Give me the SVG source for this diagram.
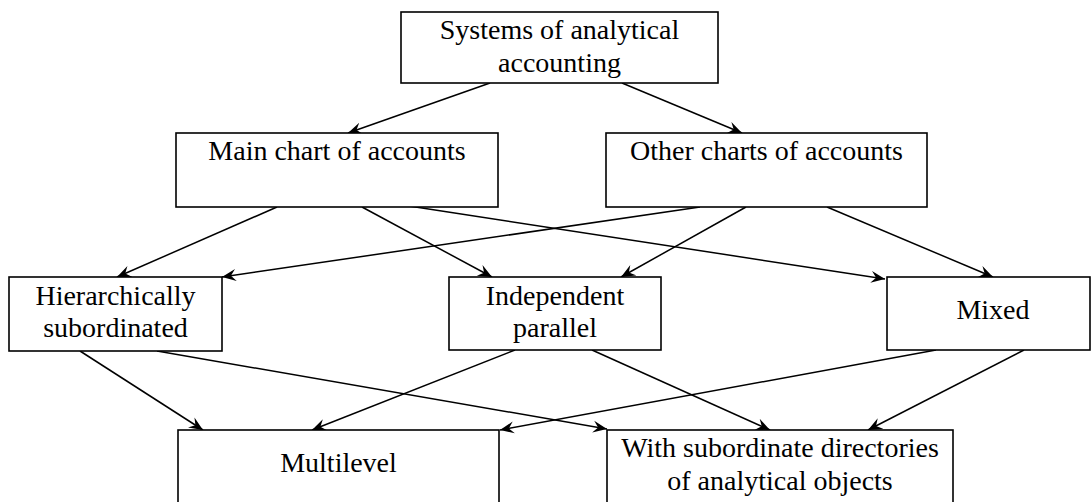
<svg xmlns="http://www.w3.org/2000/svg" width="1092" height="502" viewBox="0 0 1092 502">
  <style>
    .box { fill: #fff; stroke: #000; stroke-width: 1.6; }
    .lbl { font-size: 28px; fill: #000; text-anchor: middle; }
    .edge { stroke: #000; stroke-width: 1.5; fill: none; marker-end: url(#arrow); }
  </style>
  <defs>
    <marker id="arrow" markerUnits="userSpaceOnUse" markerWidth="16" markerHeight="14" viewBox="-14 -7 16 14" refX="0" refY="0" orient="auto">
      <path d="M-14,-6 L0,0 L-14,6 L-9,0 z" fill="#000"/>
    </marker>
  </defs>
  <rect width="1092" height="502" fill="#fff"/>

  <g id="connectors">
    <line class="edge" x1="490" y1="83" x2="348" y2="133"/>
    <line class="edge" x1="622" y1="83" x2="742" y2="133"/>
    <line class="edge" x1="277" y1="207" x2="117" y2="277"/>
    <line class="edge" x1="362" y1="207" x2="492" y2="277"/>
    <line class="edge" x1="409" y1="206" x2="885" y2="279"/>
    <line class="edge" x1="700" y1="207" x2="222" y2="277"/>
    <line class="edge" x1="746" y1="207" x2="621" y2="277"/>
    <line class="edge" x1="827" y1="207" x2="993" y2="277"/>
    <line class="edge" x1="80" y1="351" x2="203" y2="430"/>
    <line class="edge" x1="157" y1="351" x2="607" y2="429"/>
    <line class="edge" x1="515" y1="350" x2="312" y2="430"/>
    <line class="edge" x1="592" y1="350" x2="770" y2="430"/>
    <line class="edge" x1="936" y1="350" x2="500" y2="430"/>
    <line class="edge" x1="1024" y1="350" x2="868" y2="430"/>
  </g>

  <g font-family="Liberation Serif, serif">
  <g id="systems">
    <rect class="box" x="401" y="12" width="317" height="71"/>
    <text class="lbl" x="559.5" y="39">Systems of analytical</text>
    <text class="lbl" x="559.5" y="72">accounting</text>
  </g>
  <g id="main-chart">
    <rect class="box" x="176" y="133" width="322" height="74"/>
    <text class="lbl" x="337" y="160">Main chart of accounts</text>
  </g>
  <g id="other-charts">
    <rect class="box" x="606" y="133" width="321" height="74"/>
    <text class="lbl" x="766.5" y="160">Other charts of accounts</text>
  </g>
  <g id="hierarchical">
    <rect class="box" x="9" y="277" width="213" height="74"/>
    <text class="lbl" x="115.5" y="305">Hierarchically</text>
    <text class="lbl" x="115.5" y="337">subordinated</text>
  </g>
  <g id="independent">
    <rect class="box" x="449" y="277" width="212" height="73"/>
    <text class="lbl" x="555" y="305">Independent</text>
    <text class="lbl" x="555" y="337">parallel</text>
  </g>
  <g id="mixed">
    <rect class="box" x="887" y="277" width="203" height="73"/>
    <text class="lbl" x="993" y="319">Mixed</text>
  </g>
  <g id="multilevel">
    <rect class="box" x="178" y="430" width="321" height="80"/>
    <text class="lbl" x="338.5" y="472">Multilevel</text>
  </g>
  <g id="subordinate-directories">
    <rect class="box" x="607" y="430" width="346" height="80"/>
    <text class="lbl" x="780" y="457">With subordinate directories</text>
    <text class="lbl" x="780" y="490">of analytical objects</text>
  </g>
  </g>
</svg>
